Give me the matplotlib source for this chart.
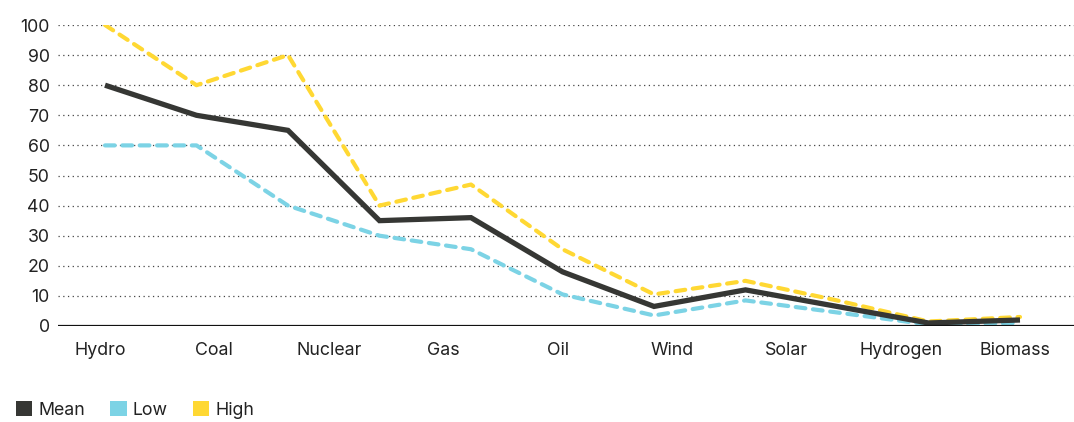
import numpy as np
import matplotlib
matplotlib.use("Agg")
import matplotlib.pyplot as plt
from matplotlib.patches import Patch

# Category labels along the x axis
categories = ["Hydro", "Coal", "Nuclear", "Gas", "Oil", "Wind", "Solar", "Hydrogen", "Biomass"]

# Series values (11 sampled points per series)
mean_vals = [80, 70, 65, 35, 36, 18, 6.5, 12, 6.5, 1, 2]
low_vals = [60, 60, 40, 30, 25.5, 10.5, 3.5, 8.5, 4.5, 0.5, 1]
high_vals = [100, 80, 90, 40, 47, 25.5, 10.5, 15, 8.5, 1.5, 3]

y_ticks = [0, 10, 20, 30, 40, 50, 60, 70, 80, 90, 100]

COL_MEAN = "#363734"
COL_LOW = "#7CD3E5"
COL_HIGH = "#FFD833"
TEXT = "#222222"

plt.rcParams["font.family"] = ["Inter", "DejaVu Sans"]
plt.rcParams["font.size"] = 12.8
plt.rcParams["lines.scale_dashes"] = False

fig = plt.figure(figsize=(10.74, 4.22), dpi=100)
ax = fig.add_axes([58 / 1074, 1 - 326 / 422, 1 - 58 / 1074, (326 - 25) / 422])

x = np.arange(len(mean_vals))

# dotted horizontal grid
for v in y_ticks[1:]:
    ax.axhline(v, color="#444444", lw=0.9, linestyle=(0, (0.9, 2.5)), zorder=1)
ax.axhline(0, color="#111111", lw=1.6, zorder=5, solid_capstyle="butt")

ax.plot(x, low_vals, color=COL_LOW, lw=3.0, linestyle=(0, (7, 5.5)),
        dash_capstyle="round", solid_joinstyle="round", zorder=3)
ax.plot(x, high_vals, color=COL_HIGH, lw=3.0, linestyle=(0, (7, 5.5)),
        dash_capstyle="round", solid_joinstyle="round", zorder=3)
ax.plot(x, mean_vals, color=COL_MEAN, lw=3.8, solid_capstyle="butt",
        solid_joinstyle="miter", zorder=4)

ax.set_ylim(0, 100)
ax.set_xlim(-47 / 91.5, 10 + 54 / 91.5)
ax.set_yticks(y_ticks)
ax.set_yticklabels([str(t) for t in y_ticks], color=TEXT)
ax.set_xticks(np.linspace(-0.055, 9.95, len(categories)))
ax.set_xticklabels(categories, color=TEXT)
ax.tick_params(axis="y", length=0, pad=6)
ax.tick_params(axis="x", length=0, pad=11.5)
for s in ax.spines.values():
    s.set_visible(False)
ax.set_facecolor("white")

handles = [Patch(facecolor=COL_MEAN, edgecolor="none", label="Mean"),
           Patch(facecolor=COL_LOW, edgecolor="none", label="Low"),
           Patch(facecolor=COL_HIGH, edgecolor="none", label="High")]
fig.legend(handles=handles, loc="center left", bbox_to_anchor=(16 / 1074, 1 - 410 / 422),
           ncol=3, frameon=False, handlelength=0.92, handleheight=0.92,
           handletextpad=0.35, columnspacing=1.4, borderpad=0, borderaxespad=0,
           labelcolor=TEXT)

fig.savefig("out.png", dpi=100, facecolor="white")
